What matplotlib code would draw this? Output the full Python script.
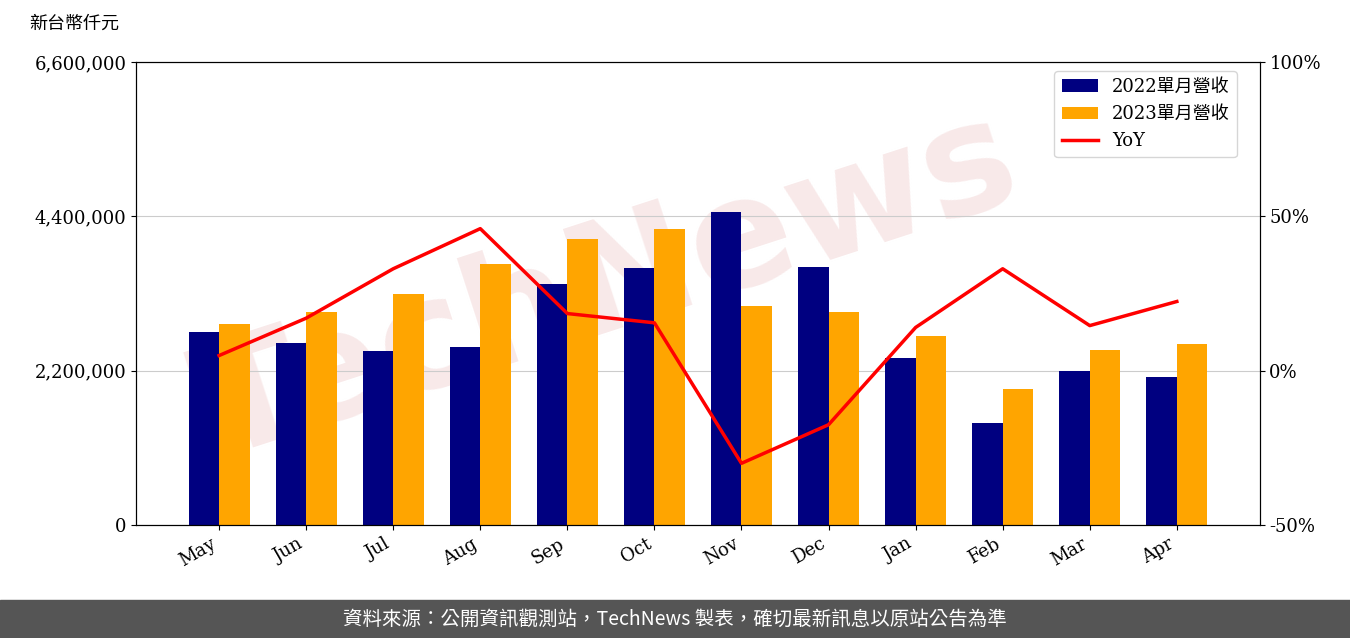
import numpy as np
import matplotlib.pyplot as plt
from matplotlib.ticker import FuncFormatter

plt.rcParams['font.family'] = ['DejaVu Serif', 'Noto Sans CJK TC']

months = ['May', 'Jun', 'Jul', 'Aug', 'Sep', 'Oct', 'Nov', 'Dec', 'Jan', 'Feb', 'Mar', 'Apr']
rev_2022 = [2750000, 2590000, 2480000, 2540000, 3440000, 3660000, 4460000, 3680000, 2380000, 1450000, 2200000, 2110000]
rev_2023 = [2870000, 3040000, 3290000, 3720000, 4080000, 4220000, 3120000, 3040000, 2690000, 1940000, 2490000, 2580000]
yoy = [4.9, 17.0, 33.0, 46.0, 18.5, 15.5, -30.0, -17.5, 14.0, 33.0, 14.6, 22.4]

fig = plt.figure(figsize=(13.5, 6.38), dpi=100)
ax = fig.add_axes([0.101, 0.177, 0.832, 0.726])
ax.set_facecolor('none')
x = np.arange(len(months))
w = 0.35
ax.bar(x - w / 2, rev_2022, w, color='#000080', label='2022單月營收')
ax.bar(x + w / 2, rev_2023, w, color='#FFA500', label='2023單月營收')
ax.set_ylim(0, 6600000)
ax.set_yticks([0, 2200000, 4400000, 6600000])
ax.yaxis.set_major_formatter(FuncFormatter(lambda v, p: f'{int(v):,}'))
ax.grid(axis='y', color='#cccccc')
ax.set_axisbelow(True)
ax.set_xticks(x)
ax.set_xticklabels(months, rotation=30, ha='right')
ax.tick_params(labelsize=13)
ax.set_xlim(-0.95, 11.95)

ax2 = ax.twinx()
ax2.plot(x, yoy, color='red', lw=2.5, label='YoY')
ax2.set_ylim(-50, 100)
ax2.set_yticks([-50, 0, 50, 100])
ax2.yaxis.set_major_formatter(FuncFormatter(lambda v, p: f'{int(v)}%'))
ax2.tick_params(labelsize=13)

h1, l1 = ax.get_legend_handles_labels()
h2, l2 = ax2.get_legend_handles_labels()
ax2.legend(h1 + h2, l1 + l2, loc='upper right', fontsize=13, bbox_to_anchor=(0.988, 1.0))

# faint watermark behind the bars
fig.text(0.45, 0.55, 'TechNews', fontsize=110, color='#f2d4d4', alpha=0.5, rotation=18,
         ha='center', va='center', family=['DejaVu Sans'], fontweight='bold', zorder=-1)

fig.text(0.022, 0.955, '新台幣仟元', fontsize=13, family=['Noto Sans CJK TC'])
fig.patches.append(plt.Rectangle((0, 0), 1, 0.06, transform=fig.transFigure, color='#555555'))
fig.text(0.5, 0.03, '資料來源：公開資訊觀測站，TechNews 製表，確切最新訊息以原站公告為準',
         color='white', fontsize=14, ha='center', va='center', family=['Noto Sans CJK TC'])
fig.savefig('out.png')
